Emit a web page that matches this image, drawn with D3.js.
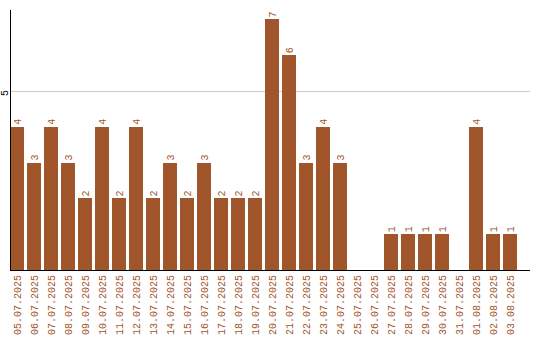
<!DOCTYPE html>
<html>
  <head>
    <meta http-equiv="Content-Type" content="text/html;charset=utf-8">
    <title>Daily counts</title>
    <script src="https://cdn.jsdelivr.net/npm/d3@7"></script>
    <style type="text/css">
body {
    margin: 0;
    background: #fff;
}
text {
    font-family: "Liberation Mono", monospace;
    font-size: 10px;
}
.bar {
    fill: #A0562A;
}
    </style>
  </head>
  <body>
    <script type="text/javascript">
// data
var days = ['05.07.2025', '06.07.2025', '07.07.2025', '08.07.2025', '09.07.2025',
            '10.07.2025', '11.07.2025', '12.07.2025', '13.07.2025', '14.07.2025',
            '15.07.2025', '16.07.2025', '17.07.2025', '18.07.2025', '19.07.2025',
            '20.07.2025', '21.07.2025', '22.07.2025', '23.07.2025', '24.07.2025',
            '25.07.2025', '26.07.2025', '27.07.2025', '28.07.2025', '29.07.2025',
            '30.07.2025', '31.07.2025', '01.08.2025', '02.08.2025', '03.08.2025'];
var counts = [4, 3, 4, 3, 2, 4, 2, 4, 2, 3, 2, 3, 2, 2, 2,
              7, 6, 3, 4, 3, 0, 0, 1, 1, 1, 1, 0, 4, 1, 1];
var yTicks = [5];

var data = days.map(function(d, i) { return { day: d, value: counts[i] } });

// chart
var w = 540,
    h = 340,
    left = 10,
    right = 530,
    topY = 10,
    base = 270,
    color = '#A0562A';

var svg = d3.select('body').append('svg')
    .attr('width', w)
    .attr('height', h);

var x = d3.scaleBand()
    .domain(days)
    .range([left, left + days.length * 17 - 3])
    .paddingInner(3 / 17)
    .paddingOuter(0);

var y = d3.scaleLinear()
    .domain([0, (base - topY) / 35.8])
    .range([base, topY]);

// grid
svg.selectAll('line.grid')
    .data(yTicks)
  .enter().append('line')
    .attr('class', 'grid')
    .attr('x1', left)
    .attr('x2', right)
    .attr('y1', function(d) { return Math.round(y(d)) + 0.5 })
    .attr('y2', function(d) { return Math.round(y(d)) + 0.5 })
    .attr('stroke', '#ccc');

// bars
svg.selectAll('rect.bar')
    .data(data)
  .enter().append('rect')
    .attr('class', 'bar')
    .attr('shape-rendering', 'crispEdges')
    .attr('x', function(d) { return x(d.day) })
    .attr('width', x.bandwidth())
    .attr('y', function(d) { return y(d.value) })
    .attr('height', function(d) { return base - y(d.value) });

// value labels
svg.selectAll('text.val')
    .data(data.filter(function(d) { return d.value > 0 }))
  .enter().append('text')
    .attr('class', 'val')
    .attr('fill', color)
    .attr('dy', '0.35em')
    .attr('transform', function(d) {
        return 'translate(' + (x(d.day) + x.bandwidth() / 2) + ',' + (y(d.value) - 2) + ') rotate(-90)';
    })
    .text(function(d) { return d.value });

// axes
var yAxis = svg.append('g')
    .attr('transform', 'translate(' + left + ',0)');
yAxis.append('line')
    .attr('x1', 0.5).attr('x2', 0.5)
    .attr('y1', topY).attr('y2', base)
    .attr('stroke', '#000');
yAxis.selectAll('text')
    .data(yTicks)
  .enter().append('text')
    .attr('fill', '#000')
    .attr('text-anchor', 'middle')
    .attr('dy', '0.35em')
    .attr('transform', function(d) { return 'translate(-6,' + (y(d) + 2) + ') rotate(-90)' })
    .text(function(d) { return d });

svg.append('line')
    .attr('x1', left)
    .attr('x2', right)
    .attr('y1', base + 0.5)
    .attr('y2', base + 0.5)
    .attr('stroke', '#000');

svg.selectAll('text.day')
    .data(days)
  .enter().append('text')
    .attr('class', 'day')
    .attr('fill', color)
    .attr('text-anchor', 'end')
    .attr('dy', '0.35em')
    .attr('transform', function(d) {
        return 'translate(' + (x(d) + x.bandwidth() / 2) + ',' + (base + 5) + ') rotate(-90)';
    })
    .text(function(d) { return d });
    </script>
  </body>
</html>
